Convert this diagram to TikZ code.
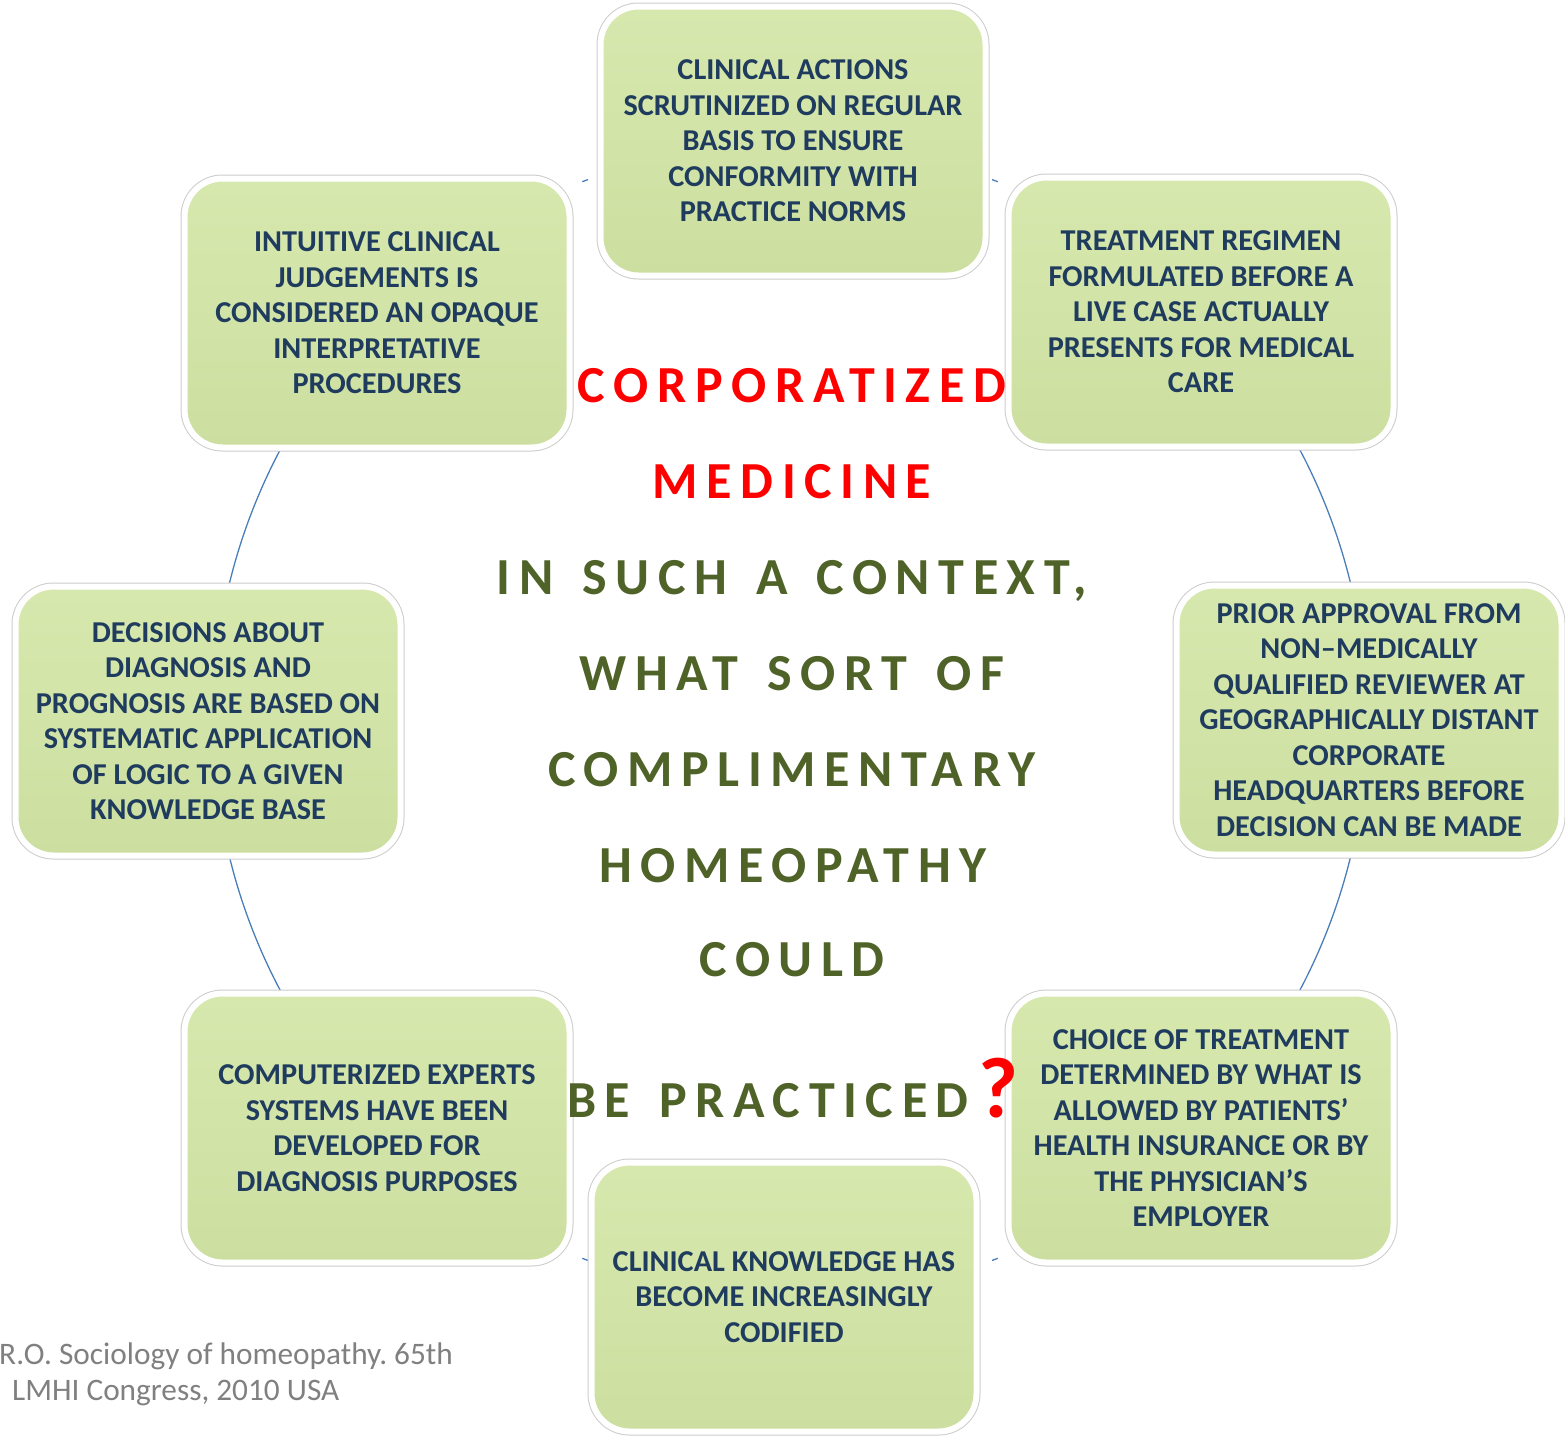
\documentclass[tikz,border=0pt]{standalone}
\usepackage{fontspec}
\setmainfont{Carlito}
\newfontfamily\spaced[LetterSpace=16.5,WordSpace=1.42]{Carlito}
\definecolor{boxtext}{HTML}{1F3B5E}
\definecolor{boxtop}{HTML}{D7E8AE}
\definecolor{boxbot}{HTML}{CCDFA0}
\definecolor{olive}{HTML}{4F6228}
\definecolor{ringblue}{HTML}{4A7EBB}
\definecolor{footgray}{HTML}{808080}
\frenchspacing
\tikzset{
  box/.style={preaction={draw=black!20,line width=8pt},
    top color=boxtop, bottom color=boxbot, draw=white, line width=6pt,
    rounded corners=38pt, minimum width=385pt, minimum height=269pt,
    inner sep=0pt, align=center, text=boxtext,
    font=\fontsize{30.3}{35.5}\selectfont\bfseries},
  ctr/.style={anchor=base, inner sep=0pt, font=\fontsize{52}{60}\selectfont\spaced\bfseries},
  foot/.style={anchor=base west, inner sep=0pt, text=footgray, font=\fontsize{31.3}{36}\selectfont},
  ring/.style={draw=ringblue, line width=1.3pt}
}
\begin{document}
\begin{tikzpicture}[x=1pt,y=-1pt]
\useasboundingbox (0,0) rectangle (1565,1440);
\coordinate (O) at (790,720);
% ring segments visible between the boxes
\draw[ring] (O) ++(145:577pt) arc[start angle=145, end angle=172, radius=577pt];
\draw[ring] (O) ++(188:577pt) arc[start angle=188, end angle=215, radius=577pt];
\draw[ring] (O) ++(35:577pt) arc[start angle=35, end angle=8, radius=577pt];
\draw[ring] (O) ++(-8:577pt) arc[start angle=-8, end angle=-35, radius=577pt];
\draw[ring] (O) ++(110.5:577pt) arc[start angle=110.5, end angle=111.1, radius=577pt];
\draw[ring] (O) ++(69.5:577pt) arc[start angle=69.5, end angle=68.9, radius=577pt];
\draw[ring] (O) ++(249.5:577pt) arc[start angle=249.5, end angle=248.9, radius=577pt];
\draw[ring] (O) ++(290.5:577pt) arc[start angle=290.5, end angle=291.1, radius=577pt];

\node[box] (b1) at (793,141) {CLINICAL ACTIONS\\SCRUTINIZED ON REGULAR\\BASIS TO ENSURE\\CONFORMITY WITH\\PRACTICE NORMS};
\node[box] (b2) at (377,313) {INTUITIVE CLINICAL\\JUDGEMENTS IS\\CONSIDERED AN OPAQUE\\INTERPRETATIVE\\PROCEDURES};
\node[box] (b3) at (1201,312) {TREATMENT REGIMEN\\FORMULATED BEFORE A\\LIVE CASE ACTUALLY\\PRESENTS FOR MEDICAL\\CARE};
\node[box] (b4) at (208,721) {DECISIONS ABOUT\\DIAGNOSIS AND\\PROGNOSIS ARE BASED ON\\SYSTEMATIC APPLICATION\\OF LOGIC TO A GIVEN\\KNOWLEDGE BASE};
\node[box] (b5) at (1369,720) {PRIOR APPROVAL FROM\\NON–MEDICALLY\\QUALIFIED REVIEWER AT\\GEOGRAPHICALLY DISTANT\\CORPORATE\\HEADQUARTERS BEFORE\\DECISION CAN BE MADE};
\node[box] (b6) at (377,1128) {COMPUTERIZED EXPERTS\\SYSTEMS HAVE BEEN\\DEVELOPED FOR\\DIAGNOSIS PURPOSES};
\node[box] (b7) at (1201,1128) {CHOICE OF TREATMENT\\DETERMINED BY WHAT IS\\ALLOWED BY PATIENTS’\\HEALTH INSURANCE OR BY\\THE PHYSICIAN’S\\EMPLOYER};
\node[box] (b8) at (784,1297) {CLINICAL KNOWLEDGE HAS\\BECOME INCREASINGLY\\CODIFIED};

\node[ctr, text=red] (c1) at (792,402) {CORPORATIZED};
\node[ctr, text=red] (c2) at (792,498) {MEDICINE};
\node[ctr, text=olive] (c3) at (792,594) {IN SUCH A CONTEXT,};
\node[ctr, text=olive] (c4) at (792,690) {WHAT SORT OF};
\node[ctr, text=olive] (c5) at (792,786) {COMPLIMENTARY};
\node[ctr, text=olive] (c6) at (793,882) {HOMEOPATHY};
\node[ctr, text=olive] (c7) at (792,976) {COULD};
\node[ctr, text=olive] (c8) at (768,1117) {BE PRACTICED};
\node[anchor=base west, inner sep=0pt, text=red, font=\fontsize{86}{90}\selectfont\bfseries] (q) at (978,1117) {?};

\node[foot] (f1) at (-1,1364) {R.O. Sociology of homeopathy. 65th};
\node[foot] (f2) at (12,1400) {LMHI Congress, 2010 USA};
\end{tikzpicture}
\end{document}
